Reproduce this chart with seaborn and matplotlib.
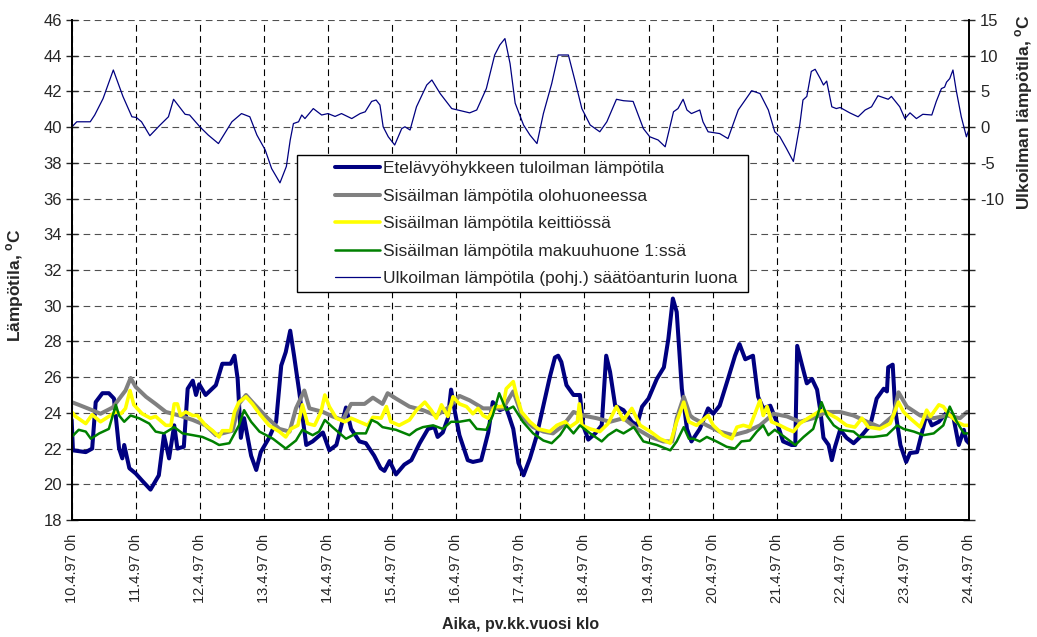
import matplotlib
matplotlib.use("Agg")
import matplotlib.pyplot as plt
from matplotlib.patches import Rectangle
from matplotlib.ticker import FixedLocator, FuncFormatter
import seaborn as sns

# --- data -----------------------------------------------------------------
# time in days after 10.4.97 0h
day_labels = ["10.4.97 0h", "11.4.97 0h", "12.4.97 0h", "13.4.97 0h", "14.4.97 0h",
              "15.4.97 0h", "16.4.97 0h", "17.4.97 0h", "18.4.97 0h", "19.4.97 0h",
              "20.4.97 0h", "21.4.97 0h", "22.4.97 0h", "23.4.97 0h", "24.4.97 0h"]

supply_t = [0.0, 0.02, 0.22, 0.32, 0.375, 0.48, 0.58, 0.66, 0.74, 0.79, 0.82, 0.9, 1.0, 1.1,
            1.23, 1.36, 1.44, 1.52, 1.6, 1.65, 1.75, 1.81, 1.89, 1.94, 1.99, 2.09, 2.25, 2.35,
            2.48, 2.54, 2.59, 2.64, 2.69, 2.8, 2.88, 2.95, 3.08, 3.19, 3.27, 3.34, 3.41, 3.47,
            3.55, 3.66, 3.76, 3.92, 4.02, 4.13, 4.28, 4.36, 4.49, 4.59, 4.72, 4.82, 4.88, 4.96,
            5.06, 5.19, 5.3, 5.43, 5.56, 5.66, 5.71, 5.79, 5.87, 5.92, 5.98, 6.05, 6.18, 6.26,
            6.39, 6.5, 6.57, 6.68, 6.78, 6.89, 6.97, 7.05, 7.15, 7.25, 7.36, 7.46, 7.54, 7.59,
            7.64, 7.72, 7.83, 7.93, 7.98, 8.06, 8.17, 8.27, 8.34, 8.4, 8.48, 8.61, 8.74, 8.82,
            8.9, 9.0, 9.13, 9.24, 9.31, 9.38, 9.44, 9.52, 9.6, 9.67, 9.8, 9.93, 10.01, 10.11,
            10.24, 10.35, 10.42, 10.51, 10.63, 10.71, 10.79, 10.9, 11.0, 11.1, 11.23, 11.29,
            11.32, 11.39, 11.47, 11.55, 11.63, 11.68, 11.73, 11.81, 11.86, 11.91, 11.99, 12.09,
            12.2, 12.33, 12.46, 12.56, 12.67, 12.72, 12.74, 12.81, 12.85, 12.93, 13.02, 13.08,
            13.19, 13.27, 13.34, 13.42, 13.53, 13.66, 13.76, 13.84, 13.92, 13.96, 14.0]
supply_v = [23.6, 21.9, 21.8, 22.0, 24.6, 25.1, 25.1, 24.8, 22.0, 21.45, 22.2, 20.9, 20.6, 20.2,
            19.7, 20.5, 22.75, 21.45, 23.3, 22.0, 22.1, 25.35, 25.8, 25.0, 25.6, 25.0, 25.55, 26.75,
            26.75, 27.2, 25.9, 22.6, 23.7, 21.6, 20.8, 21.8, 22.6, 23.5, 26.65, 27.4, 28.6, 27.2,
            25.2, 22.2, 22.4, 22.9, 21.9, 22.2, 24.3, 23.1, 22.4, 22.3, 21.6, 20.9, 20.75, 21.3,
            20.55, 21.1, 21.35, 22.3, 23.1, 23.2, 22.65, 22.9, 23.7, 25.3, 24.05, 22.75, 21.35, 21.25,
            21.35, 22.9, 24.6, 24.15, 24.3, 23.1, 21.2, 20.5, 21.45, 22.65, 24.4, 26.0, 27.1, 27.2,
            26.85, 25.55, 25.0, 25.0, 23.3, 22.5, 22.85, 23.3, 27.2, 26.3, 24.4, 24.15, 23.5, 23.3,
            24.35, 24.8, 25.9, 26.55, 28.15, 30.4, 29.65, 25.35, 23.1, 22.4, 23.1, 24.25, 23.95, 24.4,
            25.9, 27.2, 27.85, 27.0, 27.2, 24.9, 24.25, 24.4, 23.5, 22.4, 22.2, 22.2,
            27.75, 26.75, 25.65, 25.9, 25.3, 24.15, 22.6, 22.2, 21.35, 22.1, 23.05, 22.6,
            22.3, 22.75, 23.3, 24.8, 25.35, 25.2, 26.55, 26.7, 24.15, 22.2, 21.25, 21.75,
            21.8, 22.95, 23.95, 23.3, 23.5, 24.05, 23.7, 22.2, 23.05, 22.45, 22.3]

living_t = [0.0, 0.11, 0.32, 0.45, 0.64, 0.84, 0.92, 1.0, 1.16, 1.31, 1.47, 1.68, 1.89, 2.09,
            2.25, 2.35, 2.51, 2.61, 2.72, 2.82, 3.03, 3.24, 3.4, 3.5, 3.63, 3.71, 3.92, 4.07,
            4.23, 4.36, 4.57, 4.7, 4.85, 4.93, 5.06, 5.27, 5.48, 5.69, 5.9, 6.05, 6.21, 6.42,
            6.57, 6.73, 6.89, 7.04, 7.2, 7.36, 7.51, 7.67, 7.83, 7.98, 8.19, 8.4, 8.61, 8.82,
            9.03, 9.23, 9.37, 9.44, 9.55, 9.65, 9.7, 9.91, 10.11, 10.32, 10.53, 10.74, 10.95,
            11.16, 11.36, 11.57, 11.78, 11.99, 12.2, 12.41, 12.61, 12.82, 12.9, 13.03, 13.24,
            13.45, 13.66, 13.86, 13.97, 14.0]
living_v = [24.6, 24.45, 24.15, 23.95, 24.3, 25.25, 25.95, 25.45, 24.9, 24.5, 24.05, 23.85, 23.6, 23.3,
            22.75, 22.85, 23.0, 24.5, 25.0, 24.6, 23.8, 23.1, 22.95, 24.25, 25.25, 24.25, 24.05, 23.8,
            23.6, 24.5, 24.5, 24.85, 24.5, 25.1, 24.8, 24.35, 24.15, 23.85, 24.35, 24.95, 24.7, 24.25,
            24.25, 24.25, 25.2, 23.7, 23.2, 22.95, 22.85, 23.3, 24.05, 23.85, 23.7, 23.5, 23.7, 23.1,
            22.65, 22.4, 22.4, 23.7, 24.9, 23.85, 23.7, 23.3, 22.95, 22.75, 22.95, 23.3, 23.95,
            23.8, 23.5, 23.7, 24.05, 24.05, 23.85, 23.5, 23.2, 23.85, 25.15, 24.35, 23.85,
            23.7, 23.85, 23.7, 24.05, 24.05]

kitchen_t = [0.0, 0.06, 0.22, 0.32, 0.45, 0.58, 0.69, 0.77, 0.84, 0.91, 0.97, 1.1, 1.23, 1.31,
             1.47, 1.55, 1.6, 1.65, 1.7, 1.78, 1.89, 1.96, 2.09, 2.2, 2.3, 2.35, 2.48, 2.54,
             2.61, 2.72, 2.82, 2.93, 3.08, 3.24, 3.34, 3.42, 3.53, 3.6, 3.68, 3.79, 3.89, 3.95,
             4.02, 4.13, 4.26, 4.36, 4.49, 4.62, 4.7, 4.83, 4.91, 4.98, 5.11, 5.27, 5.38, 5.51,
             5.61, 5.69, 5.77, 5.87, 5.95, 6.05, 6.16, 6.26, 6.34, 6.42, 6.5, 6.6, 6.73, 6.78,
             6.89, 6.94, 7.02, 7.15, 7.28, 7.46, 7.57, 7.7, 7.77, 7.89, 7.92, 7.96, 8.09, 8.24,
             8.37, 8.5, 8.61, 8.74, 8.87, 9.03, 9.18, 9.34, 9.44, 9.55, 9.63, 9.75, 9.88, 9.93,
             10.01, 10.17, 10.3, 10.38, 10.48, 10.58, 10.66, 10.74, 10.79, 10.85, 10.92, 11.05,
             11.16, 11.26, 11.36, 11.49, 11.65, 11.73, 11.81, 11.94, 12.09, 12.22, 12.33, 12.43,
             12.61, 12.77, 12.9, 12.98, 13.08, 13.24, 13.34, 13.4, 13.53, 13.6, 13.68, 13.81,
             13.92, 14.0]
kitchen_v = [24.05, 23.8, 23.4, 23.9, 23.5, 23.8, 24.05, 23.95, 24.25, 25.25, 24.45, 23.95, 23.7, 23.8,
             23.3, 23.3, 24.5, 24.5, 23.85, 24.05, 23.85, 23.85, 23.3, 23.0, 22.65, 23.0, 23.0, 24.05,
             24.6, 24.9, 24.5, 23.95, 23.3, 22.95, 22.65, 23.1, 23.3, 24.45, 23.4, 23.3, 24.05, 25.0,
             24.35, 23.7, 23.5, 23.7, 23.5, 23.3, 23.75, 23.7, 24.35, 23.5, 23.3, 23.6, 24.15, 24.6,
             24.15, 23.7, 24.45, 23.8, 24.9, 24.5, 24.35, 23.95, 24.25, 23.85, 23.7, 24.35, 24.35, 25.35,
             25.75, 25.0, 24.05, 23.5, 23.1, 22.95, 23.3, 23.5, 23.2, 23.5, 24.5, 23.3, 23.1, 22.95,
             23.4, 24.35, 23.6, 24.25, 23.3, 22.95, 22.55, 22.3, 23.5, 24.6, 23.5, 23.3, 23.7, 23.85,
             23.3, 22.75, 22.55, 23.2, 23.3, 23.2, 23.95, 24.7, 23.85, 24.35, 23.5, 23.3,
             23.1, 22.95, 23.4, 23.7, 24.05, 24.15, 23.95, 23.7, 23.3, 23.2, 23.7, 23.2,
             23.1, 23.4, 24.6, 24.05, 23.7, 23.2, 24.15, 23.8, 24.45, 24.35, 23.95, 23.5,
             23.3, 23.3]

bedroom_t = [0.0, 0.11, 0.22, 0.3, 0.43, 0.58, 0.69, 0.74, 0.82, 0.92, 1.05, 1.21, 1.31, 1.44,
             1.6, 1.73, 1.89, 2.04, 2.2, 2.3, 2.46, 2.61, 2.69, 2.8, 2.93, 3.14, 3.34, 3.5,
             3.6, 3.76, 3.86, 3.95, 4.07, 4.28, 4.44, 4.59, 4.68, 4.77, 4.85, 5.06, 5.27, 5.38,
             5.48, 5.64, 5.79, 5.92, 6.05, 6.21, 6.32, 6.47, 6.57, 6.67, 6.78, 6.89, 7.04, 7.2,
             7.36, 7.49, 7.62, 7.72, 7.83, 7.93, 8.09, 8.27, 8.37, 8.5, 8.61, 8.77, 8.92, 9.13,
             9.34, 9.44, 9.55, 9.63, 9.7, 9.8, 9.91, 10.06, 10.22, 10.35, 10.45, 10.58, 10.69,
             10.79, 10.87, 10.97, 11.16, 11.29, 11.42, 11.57, 11.7, 11.78, 11.89, 11.99, 12.2,
             12.3, 12.51, 12.72, 12.88, 12.98, 13.14, 13.29, 13.45, 13.6, 13.7, 13.81, 13.92, 14.0]
bedroom_v = [22.65, 23.05, 22.95, 22.55, 22.85, 23.1, 24.45, 23.85, 23.5, 23.85, 23.7, 23.4, 22.95, 22.85,
             23.2, 22.85, 22.75, 22.65, 22.4, 22.2, 22.3, 23.3, 24.15, 23.5, 22.95, 22.55, 22.0, 22.45,
             23.05, 22.75, 22.95, 23.6, 23.2, 22.55, 22.85, 22.85, 23.6, 23.45, 23.2, 23.05, 22.75, 23.05,
             23.2, 23.3, 23.1, 23.5, 23.5, 23.6, 23.1, 23.05, 23.85, 25.1, 24.15, 24.35, 23.5, 22.85,
             22.45, 22.3, 22.75, 23.3, 22.85, 23.3, 22.85, 22.4, 22.75, 23.05, 22.85, 23.2, 22.4, 22.2,
             21.9, 22.4, 23.2, 22.55, 22.55, 22.4, 22.65, 22.4, 22.1, 22.0, 22.4, 22.45, 22.95,
             23.3, 22.75, 23.05, 22.55, 22.2, 22.65, 23.1, 24.6, 23.85, 23.3, 23.05, 22.95,
             22.65, 22.65, 22.75, 23.3, 23.1, 22.95, 22.75, 22.85, 23.3, 24.35, 23.5, 22.85, 22.85]

outdoor_t = [0.0, 0.08, 0.29, 0.36, 0.49, 0.65, 0.8, 0.94, 1.01, 1.09, 1.22, 1.38, 1.51, 1.59,
             1.77, 1.84, 2.0, 2.13, 2.29, 2.5, 2.65, 2.78, 2.89, 3.02, 3.12, 3.25, 3.35, 3.41,
             3.46, 3.54, 3.59, 3.64, 3.77, 3.9, 4.0, 4.11, 4.21, 4.37, 4.5, 4.58, 4.68, 4.75,
             4.81, 4.86, 4.94, 5.04, 5.15, 5.2, 5.28, 5.38, 5.54, 5.62, 5.75, 5.93, 6.21, 6.32,
             6.47, 6.6, 6.68, 6.76, 6.84, 6.92, 7.05, 7.15, 7.26, 7.36, 7.49, 7.59, 7.75, 7.85,
             7.96, 8.09, 8.24, 8.35, 8.5, 8.61, 8.76, 8.92, 9.02, 9.15, 9.26, 9.39, 9.46, 9.54,
             9.6, 9.67, 9.8, 9.85, 9.93, 10.11, 10.24, 10.4, 10.61, 10.74, 10.87, 10.97, 11.05,
             11.15, 11.26, 11.36, 11.41, 11.47, 11.54, 11.6, 11.68, 11.73, 11.78, 11.86, 11.93,
             11.99, 12.14, 12.27, 12.38, 12.48, 12.58, 12.74, 12.79, 12.92, 13.0, 13.08, 13.18,
             13.28, 13.42, 13.49, 13.57, 13.62, 13.65, 13.7, 13.75, 13.8, 13.88, 13.96, 14.0]
outdoor_v = [0.0, 0.75, 0.75, 1.7, 4.0, 8.0, 4.3, 1.45, 1.35, 0.75, -1.2, 0.3, 1.45, 3.9,
             1.8, 1.7, 0.05, -1.1, -2.3, 0.75, 1.9, 1.45, -1.1, -3.2, -5.8, -7.8, -5.5, -1.8,
             0.5, 0.75, 1.7, 1.2, 2.6, 1.7, 1.9, 1.5, 1.9, 1.2, 1.9, 2.15, 3.6, 3.8,
             3.1, 0.05, -1.35, -2.5, -0.2, 0.05, -0.4, 2.85, 5.9, 6.6, 4.7, 2.6, 2.0, 2.4,
             5.4, 10.1, 11.5, 12.4, 8.9, 3.35, 0.3, -1.1, -2.3, 1.9, 6.1, 10.1, 10.1, 6.6,
             2.6, 0.3, -0.65, 0.75, 3.9, 3.7, 3.6, -0.2, -1.35, -1.8, -2.75, 2.15, 2.6, 3.9,
             2.4, 1.9, 2.4, 0.75, -0.65, -0.9, -1.6, 2.4, 5.1, 4.7, 2.4, -0.65, -1.35,
             -2.95, -4.8, 0.3, 3.8, 4.3, 7.8, 8.1, 6.8, 5.9, 6.45, 2.85, 2.6,
             2.75, 2.0, 1.45, 2.4, 2.85, 4.4, 3.9, 4.3, 2.85, 1.2, 2.0, 1.2,
             1.8, 1.7, 3.6, 5.4, 5.6, 6.3, 6.8, 8.0, 5.2, 1.45, -1.35, -0.3]

series_names = ["Etelävyöhykkeen tuloilman lämpötila",
                "Sisäilman lämpötila olohuoneessa",
                "Sisäilman lämpötila keittiössä",
                "Sisäilman lämpötila makuuhuone 1:ssä",
                "Ulkoilman lämpötila (pohj.) säätöanturin luona"]

# --- styling ----------------------------------------------------------------
sns.set_style("white")
plt.rcParams["font.family"] = ["Liberation Sans", "DejaVu Sans"]
plt.rcParams["mathtext.fontset"] = "custom"
plt.rcParams["mathtext.rm"] = "Liberation Sans"
plt.rcParams["mathtext.bf"] = "Liberation Sans:bold"

fig = plt.figure(figsize=(10.37, 6.37), dpi=100)
ax = fig.add_axes([0.0691, 0.1837, 0.8653, 0.7849])
ax2 = ax.twinx()

indoor = [(supply_t, supply_v, "#000080", 2.9),
          (living_t, living_v, "#808080", 2.9),
          (kitchen_t, kitchen_v, "#FFFF00", 2.6),
          (bedroom_t, bedroom_v, "#008000", 1.8)]
for (t, v, c, lw), name in zip(indoor, series_names[:4]):
    sns.lineplot(x=t, y=v, ax=ax, color=c, linewidth=lw, label=name, legend=False)

sns.lineplot(x=outdoor_t, y=outdoor_v, ax=ax2, color="#000080", linewidth=0.9,
             label=series_names[4], legend=False)

# axes limits / ticks
ax.set_xlim(0, 14)
ax.set_ylim(18, 46)
ax2.set_ylim(-55, 15)
ax.set_xticks(range(len(day_labels)))
ax.set_xticklabels(day_labels, rotation=90, fontsize=10.5)
ax.set_yticks(range(18, 47, 2))
ax.tick_params(axis="y", labelsize=12, direction="inout", length=8, width=1, pad=3)
ax.tick_params(axis="x", direction="inout", length=8, width=1, pad=6)
ax2.yaxis.set_major_locator(FixedLocator(range(-55, 16, 5)))
ax2.yaxis.set_major_formatter(FuncFormatter(lambda v, p: f"{int(v)}" if v >= -10 else ""))
ax2.tick_params(axis="y", labelsize=12, direction="inout", length=8, width=1, pad=4)

# dashed grid
ax.xaxis.grid(True, color="black", linestyle=(0, (6, 4)), linewidth=0.8)
ax.yaxis.grid(True, color="#505050", linestyle=(0, (6, 4)), linewidth=0.8)
ax.set_axisbelow(True)
ax2.grid(False)

for a in (ax, ax2):
    a.spines["top"].set_visible(False)
    for s in ("left", "right", "bottom"):
        a.spines[s].set_color("black")
        a.spines[s].set_linewidth(1.4)
ax.spines["right"].set_visible(False)

ax.set_xlabel("Aika, pv.kk.vuosi klo", fontsize=11.5, fontweight="bold")
ax.xaxis.set_label_coords(0.5, -0.195)
ax.set_ylabel("Lämpötila, $^{\\mathbf{o}}$C", fontsize=12.5, fontweight="bold")
ax.yaxis.set_label_coords(-0.051, 0.47)
ax2.set_ylabel("Ulkoilman lämpötila, $^{\\mathbf{o}}$C", fontsize=12.5, fontweight="bold",
               rotation=90, va="center")
ax2.yaxis.set_label_coords(1.062, 0.815)

# legend: white box with black frame, entries inset from its left edge
ax2.add_patch(Rectangle((0.2511, 0.456), 0.5027, 0.274, transform=ax2.transAxes,
                        facecolor="white", edgecolor="black", linewidth=1.0, zorder=4))
handles = ax.get_lines()[:4] + ax2.get_lines()[:1]
leg = ax2.legend(handles, series_names, loc="upper left", bbox_to_anchor=(0.2934, 0.7174),
                 frameon=False, fontsize=12.5, handlelength=2.6, handletextpad=0.17,
                 labelspacing=0.71, borderpad=0, borderaxespad=0)
leg.set_zorder(5)

fig.savefig("out.png", dpi=100, facecolor="white")
